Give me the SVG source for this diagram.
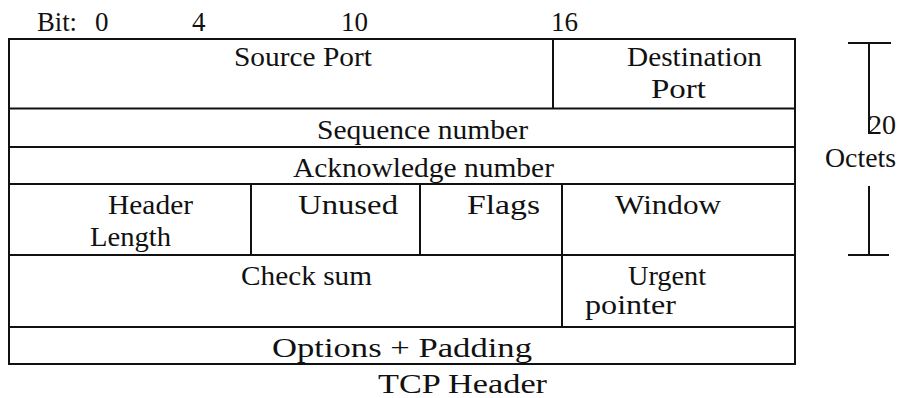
<svg xmlns="http://www.w3.org/2000/svg" width="901" height="398" viewBox="0 0 901 398">
<style>
  text { font-family: "Liberation Serif", "Times New Roman", serif; fill: #111; }
  .t { font-size: 28px; }
  .h { font-size: 27px; }
  .ln { stroke: #111; stroke-width: 2; fill: none; }
</style>
<rect width="901" height="398" fill="#fff"/>
<g id="bit-scale">
  <text class="h" x="37" y="31" textLength="40" lengthAdjust="spacingAndGlyphs">Bit:</text>
  <text class="h" x="95" y="31">0</text>
  <text class="h" x="192" y="31">4</text>
  <text class="h" x="341" y="31">10</text>
  <text class="h" x="551" y="31">16</text>
</g>
<g id="frame">
  <rect class="ln" x="9" y="39" width="786" height="325"/>
  <line class="ln" x1="9" y1="108.5" x2="795" y2="108.5"/>
  <line class="ln" x1="9" y1="147" x2="795" y2="147"/>
  <line class="ln" x1="9" y1="184" x2="795" y2="184"/>
  <line class="ln" x1="9" y1="255" x2="795" y2="255"/>
  <line class="ln" x1="9" y1="327" x2="795" y2="327"/>
</g>
<g id="source-port">
  <text class="t" x="234" y="66" textLength="138" lengthAdjust="spacingAndGlyphs">Source Port</text>
</g>
<g id="destination-port">
  <line class="ln" x1="553" y1="39" x2="553" y2="108.5"/>
  <text class="t" x="627" y="66" textLength="135" lengthAdjust="spacingAndGlyphs">Destination</text>
  <text class="t" x="651" y="98" textLength="55" lengthAdjust="spacingAndGlyphs">Port</text>
</g>
<g id="sequence-number">
  <text class="t" x="317" y="139" textLength="211" lengthAdjust="spacingAndGlyphs">Sequence number</text>
</g>
<g id="acknowledge-number">
  <text class="t" x="293" y="177" textLength="261" lengthAdjust="spacingAndGlyphs">Acknowledge number</text>
</g>
<g id="header-length">
  <text class="t" x="108" y="214" textLength="85" lengthAdjust="spacingAndGlyphs">Header</text>
  <text class="t" x="90" y="246" textLength="81" lengthAdjust="spacingAndGlyphs">Length</text>
</g>
<g id="unused">
  <line class="ln" x1="251" y1="184" x2="251" y2="255"/>
  <text class="t" x="298" y="214" textLength="100" lengthAdjust="spacingAndGlyphs">Unused</text>
</g>
<g id="flags">
  <line class="ln" x1="420" y1="184" x2="420" y2="255"/>
  <text class="t" x="467" y="214" textLength="73" lengthAdjust="spacingAndGlyphs">Flags</text>
</g>
<g id="window">
  <line class="ln" x1="562" y1="184" x2="562" y2="327"/>
  <text class="t" x="615" y="214" textLength="106" lengthAdjust="spacingAndGlyphs">Window</text>
</g>
<g id="check-sum">
  <text class="t" x="241" y="285" textLength="131" lengthAdjust="spacingAndGlyphs">Check sum</text>
</g>
<g id="urgent-pointer">
  <text class="t" x="628" y="285" textLength="78" lengthAdjust="spacingAndGlyphs">Urgent</text>
  <text class="t" x="585" y="314" textLength="91" lengthAdjust="spacingAndGlyphs">pointer</text>
</g>
<g id="options-padding">
  <text class="t" x="272" y="357" textLength="260" lengthAdjust="spacingAndGlyphs">Options + Padding</text>
</g>
<g id="caption">
  <text class="t" x="378" y="393" textLength="169" lengthAdjust="spacingAndGlyphs">TCP Header</text>
</g>
<g id="octets-bracket">
  <line class="ln" x1="848" y1="43" x2="891" y2="43"/>
  <line class="ln" x1="869" y1="43" x2="869" y2="134"/>
  <line class="ln" x1="869" y1="186" x2="869" y2="255"/>
  <line class="ln" x1="848" y1="255" x2="889" y2="255"/>
  <text class="t" x="868" y="134" textLength="28" lengthAdjust="spacingAndGlyphs">20</text>
  <text class="t" x="825" y="167" textLength="71" lengthAdjust="spacingAndGlyphs">Octets</text>
</g>
</svg>
